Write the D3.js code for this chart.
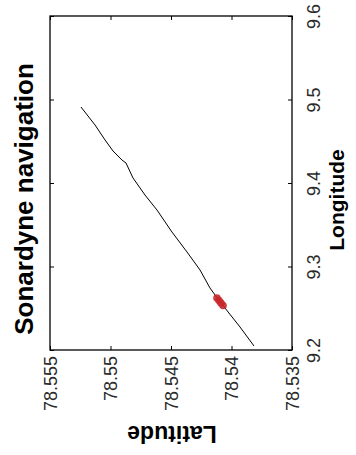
<!DOCTYPE html>
<html><head><meta charset="utf-8">
<script src="https://cdn.jsdelivr.net/npm/d3@7"></script>
<style>
html,body{margin:0;padding:0;background:#fff;}
svg{display:block;font-family:Arial,"Liberation Sans",sans-serif;}
</style></head>
<body><svg id="c" width="356" height="455"></svg>
<script>
const latTicks = [78.555, 78.55, 78.545, 78.54, 78.535];
const latTickLabels = ["78.555", "78.55", "78.545", "78.54", "78.535"];
const lonTicks = [9.2, 9.3, 9.4, 9.5, 9.6];
const lonTickLabels = ["9.2", "9.3", "9.4", "9.5", "9.6"];
const trackLat = [78.55244, 78.55128, 78.55045, 78.54979, 78.54905, 78.54872, 78.54814, 78.54715, 78.54616, 78.54492, 78.54368, 78.54260, 78.54178, 78.54112, 78.54054, 78.53930, 78.53814];
const trackLon = [9.4910, 9.4695, 9.4515, 9.4383, 9.4275, 9.4240, 9.4060, 9.3856, 9.3677, 9.3413, 9.3174, 9.2958, 9.2743, 9.2611, 9.2503, 9.2276, 9.2048];
const redLat = [78.54120, 78.54103, 78.54087, 78.54070];
const redLon = [9.2623, 9.2593, 9.2563, 9.2533];
const titleText = "Sonardyne navigation";
const xLabel = "Latitude";
const yLabel = "Longitude";

const svg = d3.select("#c");
const L = 50, R = 292, T = 16, B = 350;
const x = d3.scaleLinear().domain([78.555, 78.535]).range([L, R]);
const y = d3.scaleLinear().domain([9.2, 9.6]).range([B, T]);

// Track line
const pts = trackLat.map((d, i) => [d, trackLon[i]]);
svg.append("path")
  .datum(pts)
  .attr("fill", "none")
  .attr("stroke", "#000")
  .attr("stroke-width", 1)
  .attr("d", d3.line().x(d => x(d[0])).y(d => y(d[1])));

// Red markers
svg.selectAll("circle.red")
  .data(redLat.map((d, i) => [d, redLon[i]]))
  .join("circle")
  .attr("class", "red")
  .attr("cx", d => x(d[0]))
  .attr("cy", d => y(d[1]))
  .attr("r", 3.8)
  .attr("fill", "#c8282a")
  .attr("fill-opacity", 0.9);

const tickFont = 18;
// Bottom axis
const gB = svg.append("g").attr("transform", `translate(0,${B})`)
  .call(d3.axisBottom(x).tickValues(latTicks).tickSize(-4).tickFormat((d, i) => latTickLabels[i]));
gB.selectAll("text")
  .attr("x", 0).attr("y", 0).attr("dy", null)
  .attr("transform", "translate(0,6) rotate(-90)")
  .attr("text-anchor", "end")
  .attr("dominant-baseline", "central")
  .attr("font-size", tickFont)
  .attr("font-family", "Arial, 'Liberation Sans', sans-serif")
  .attr("fill", "#2a2a2a");
// Top axis
svg.append("g").attr("transform", `translate(0,${T})`)
  .call(d3.axisTop(x).tickValues(latTicks).tickSize(-4).tickFormat(""));
// Left axis
svg.append("g").attr("transform", `translate(${L},0)`)
  .call(d3.axisLeft(y).tickValues(lonTicks).tickSize(-4).tickFormat(""));
// Right axis
const gR = svg.append("g").attr("transform", `translate(${R},0)`)
  .call(d3.axisRight(y).tickValues(lonTicks).tickSize(-4).tickFormat((d, i) => lonTickLabels[i]));
gR.selectAll("text")
  .attr("x", 0).attr("y", 0).attr("dy", null)
  .attr("transform", "translate(22,0) rotate(-90)")
  .attr("text-anchor", "middle")
  .attr("dominant-baseline", "central")
  .attr("font-size", tickFont)
  .attr("font-family", "Arial, 'Liberation Sans', sans-serif")
  .attr("fill", "#2a2a2a");

svg.selectAll(".domain").remove();
svg.selectAll(".tick line").attr("stroke", "#000").attr("stroke-width", 1);

// Box
svg.append("rect")
  .attr("x", L).attr("y", T).attr("width", R - L).attr("height", B - T)
  .attr("fill", "none").attr("stroke", "#000").attr("stroke-width", 1.3);

// Title (rotated)
svg.append("text")
  .attr("transform", "translate(24,199) rotate(-90)")
  .attr("text-anchor", "middle")
  .attr("dominant-baseline", "central")
  .attr("font-size", 26)
  .attr("font-weight", "bold")
  .text(titleText);

// Longitude label
svg.append("text")
  .attr("transform", "translate(336,200) rotate(-90)")
  .attr("text-anchor", "middle")
  .attr("dominant-baseline", "central")
  .attr("font-size", 21)
  .attr("font-weight", "bold")
  .text(yLabel);

// Latitude label (upside down)
svg.append("text")
  .attr("transform", "translate(172,434) rotate(180)")
  .attr("text-anchor", "middle")
  .attr("dominant-baseline", "central")
  .attr("font-size", 23)
  .attr("font-weight", "bold")
  .text(xLabel);
</script></body></html>
